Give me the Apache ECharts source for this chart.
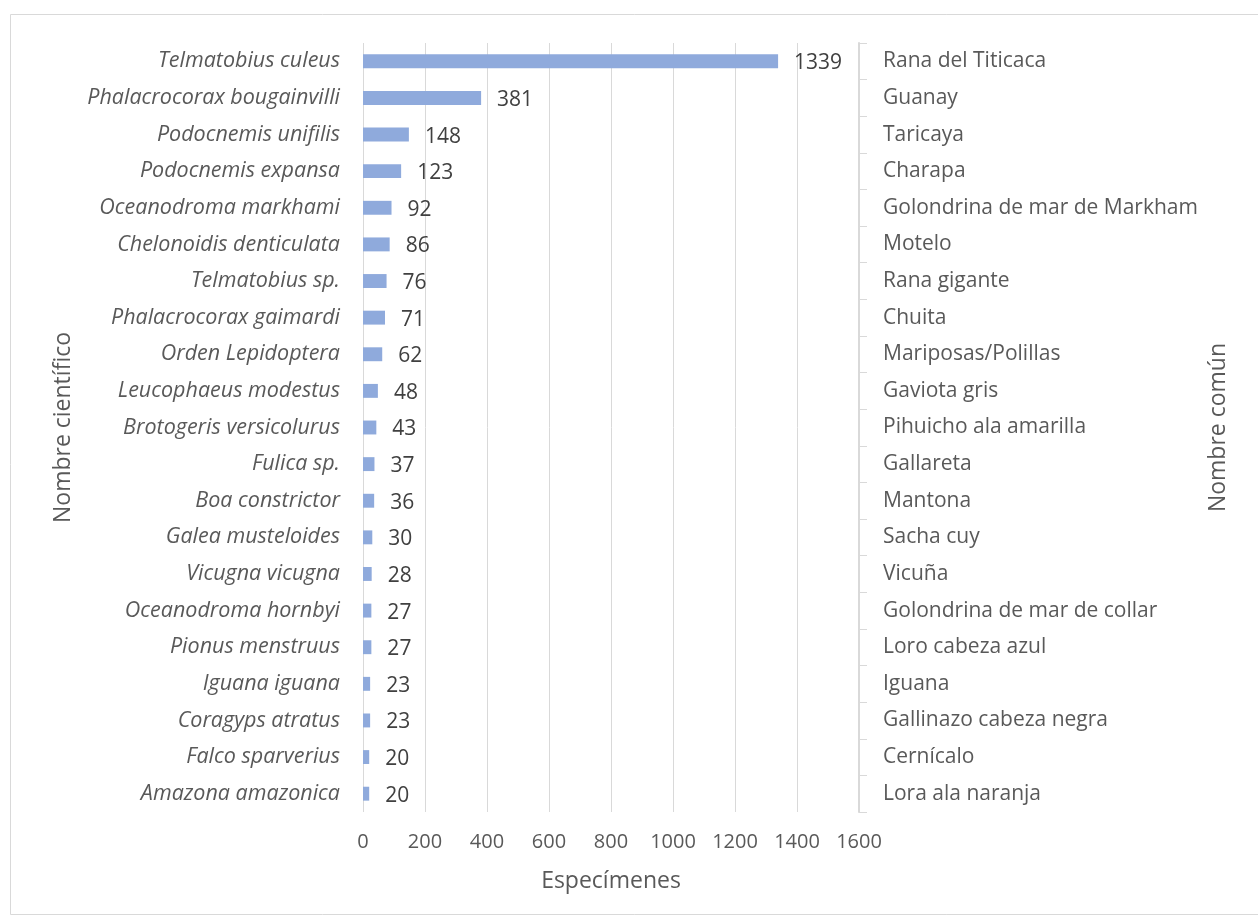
<!DOCTYPE html>
<html>
<head>
<meta charset="utf-8">
<script src="https://cdn.jsdelivr.net/npm/echarts@6/dist/echarts.min.js"></script>
<style>html,body{margin:0;padding:0;background:#fff}#c{width:1258px;height:922px}</style>
</head>
<body>
<div id="c"></div>
<script>
const scientificNames = ["Telmatobius culeus","Phalacrocorax bougainvilli","Podocnemis unifilis","Podocnemis expansa","Oceanodroma markhami","Chelonoidis denticulata","Telmatobius sp.","Phalacrocorax gaimardi","Orden Lepidoptera","Leucophaeus modestus","Brotogeris versicolurus","Fulica sp.","Boa constrictor","Galea musteloides","Vicugna vicugna","Oceanodroma hornbyi","Pionus menstruus","Iguana iguana","Coragyps atratus","Falco sparverius","Amazona amazonica"];
const commonNames = ["Rana del Titicaca","Guanay","Taricaya","Charapa","Golondrina de mar de Markham","Motelo","Rana gigante","Chuita","Mariposas/Polillas","Gaviota gris","Pihuicho ala amarilla","Gallareta","Mantona","Sacha cuy","Vicuña","Golondrina de mar de collar","Loro cabeza azul","Iguana","Gallinazo cabeza negra","Cernícalo","Lora ala naranja"];
const specimens = [1339,381,148,123,92,86,76,71,62,48,43,37,36,30,28,27,27,23,23,20,20];
const xTicks = {min:0, max:1600, interval:200};

const FONT = '"Open Sans", sans-serif';
const chart = echarts.init(document.getElementById('c'));
chart.setOption({
  animation:false,
  textStyle:{fontFamily:FONT},
  graphic:[{type:'rect',shape:{x:10.5,y:14.5,width:1300,height:900},style:{fill:'none',stroke:'#d9d9d9',lineWidth:1},silent:true}],
  grid:{left:363,right:399,top:43,bottom:110,containLabel:false},
  xAxis:{type:'value',min:xTicks.min,max:xTicks.max,interval:xTicks.interval,
    name:'Especímenes',nameLocation:'middle',nameGap:58,
    nameTextStyle:{fontSize:23,color:'#595959',fontFamily:FONT},
    axisLine:{show:false},axisTick:{show:false},
    axisLabel:{fontSize:20,color:'#595959',margin:20,fontFamily:FONT,formatter:v=>String(v)},
    splitLine:{show:true,lineStyle:{color:'#d9d9d9',width:1}}},
  yAxis:[
    {type:'category',data:scientificNames,inverse:true,position:'left',
     name:'Nombre científico',nameLocation:'middle',nameGap:288,
     nameTextStyle:{fontSize:23,color:'#595959',fontFamily:FONT},
     axisLine:{show:false},axisTick:{show:false},
     axisLabel:{fontSize:21.5,color:'#595959',fontStyle:'italic',margin:23,fontFamily:FONT,padding:[4,0,0,0]}},
    {type:'category',data:commonNames,inverse:true,position:'right',
     name:'Nombre común',nameLocation:'middle',nameGap:348,
     nameTextStyle:{fontSize:23,color:'#595959',fontFamily:FONT},
     axisLine:{show:true,lineStyle:{color:'#d9d9d9',width:2}},
     axisTick:{show:true,length:8,lineStyle:{color:'#d9d9d9',width:1}},
     axisLabel:{fontSize:21,color:'#595959',margin:24,fontFamily:FONT,padding:[4,0,0,0]}}
  ],
  series:[{type:'bar',yAxisIndex:0,data:specimens,barWidth:'38%',
    itemStyle:{color:'#8faadc'},
    label:{show:true,position:'right',distance:16,offset:[0,2],fontSize:21,color:'#404040',fontFamily:FONT}}]
});
</script>
</body>
</html>
